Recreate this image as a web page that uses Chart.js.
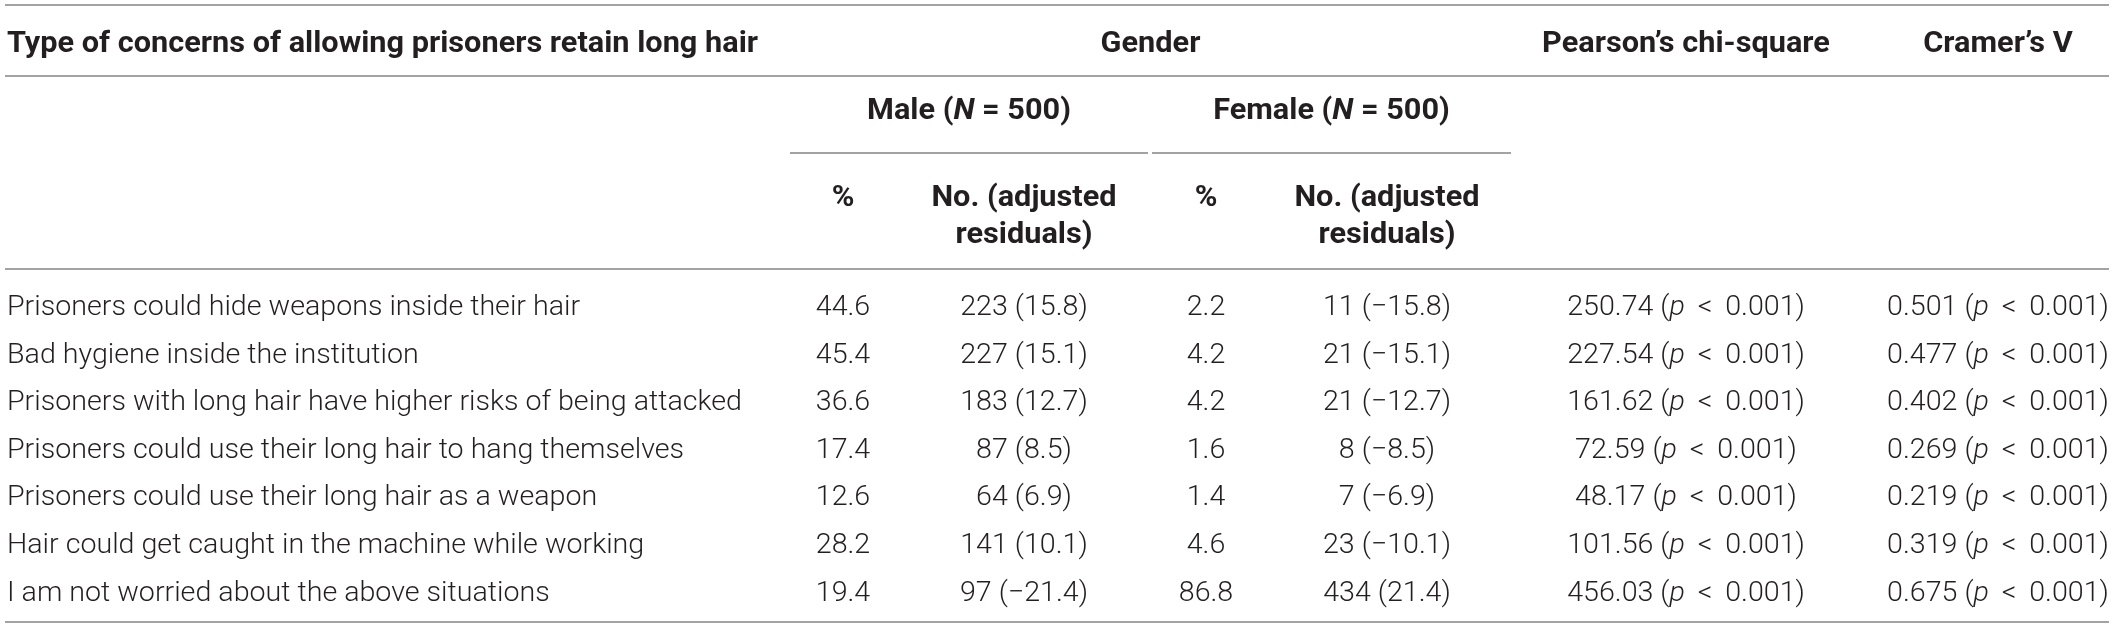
<!DOCTYPE html>
<html><head><meta charset="utf-8">
<script src="https://cdn.jsdelivr.net/npm/chart.js@4.4.1/dist/chart.umd.min.js"></script>
<style>html,body{margin:0;padding:0;background:#fff;overflow:hidden}#wrap{width:2117px;height:630px;position:relative}</style>
</head><body><div id="wrap"><canvas id="c" width="2117" height="630"></canvas></div>
<script>
// ---------- DATA ----------
const concerns = [
  "Prisoners could hide weapons inside their hair",
  "Bad hygiene inside the institution",
  "Prisoners with long hair have higher risks of being attacked",
  "Prisoners could use their long hair to hang themselves",
  "Prisoners could use their long hair as a weapon",
  "Hair could get caught in the machine while working",
  "I am not worried about the above situations"
];
const malePct   = [44.6, 45.4, 36.6, 17.4, 12.6, 28.2, 19.4];
const maleNo    = [223, 227, 183, 87, 64, 141, 97];
const maleRes   = [15.8, 15.1, 12.7, 8.5, 6.9, 10.1, -21.4];
const femalePct = [2.2, 4.2, 4.2, 1.6, 1.4, 4.6, 86.8];
const femaleNo  = [11, 21, 21, 8, 7, 23, 434];
const femaleRes = [-15.8, -15.1, -12.7, -8.5, -6.9, -10.1, 21.4];
const chiSquare = [250.74, 227.54, 161.62, 72.59, 48.17, 101.56, 456.03];
const cramersV  = [0.501, 0.477, 0.402, 0.269, 0.219, 0.319, 0.675];
const pText = "0.001";

const headTitle  = "Type of concerns of allowing prisoners retain long hair";
const headGender = "Gender";
const headChi    = "Pearson\u2019s chi-square";
const headV      = "Cramer\u2019s V";
const groupNames = ["Male", "Female"];
const groupN     = [500, 500];
const subPct     = "%";
const subNo      = ["No. (adjusted", "residuals)"];

// ---------- LAYOUT (positions / styles) ----------
const L = {
  W: 2117, H: 630,
  ruleLeft: 5, ruleRight: 2109,
  col: {label: 7, malePct: 843, maleNo: 1024, femalePct: 1206, femaleNo: 1387, chi: 1686, v: 1998},
  under: [[790, 1148], [1152, 1511]],
  firstRow: 305, rowH: 47.6,
  yPx: {topRule: 5, head1: 41, rule1: 76, head2: 108, underline: 153, head3a: 195, head3b: 232, rule2: 269, bottom: 622},
  text: '#231f20', line: '#a3a3a3', lineW: 2,
  bodyFam: 'Roboto', bodyW: 300, bodyCap: 20, bodyRefW: 735,
  headFam: 'Roboto', headW: 700, headCap: 21, headRefW: 751
};
const toRow = px => (px - L.firstRow) / L.rowH;

// ---------- helpers ----------
const fmtRes = v => (v < 0 ? '\u2212' + Math.abs(v).toFixed(1) : v.toFixed(1));
const seg = (t, it) => ({t, it: !!it});
const LT = ' \u2009<\u2009 ';

const cellCols = [
  {key: 'label', align: 'left', cells: concerns.map(s => [seg(s)])},
  {key: 'malePct', align: 'center', cells: malePct.map(v => [seg(v.toFixed(1))])},
  {key: 'maleNo', align: 'center', cells: maleNo.map((n, i) => [seg(n + ' (' + fmtRes(maleRes[i]) + ')')])},
  {key: 'femalePct', align: 'center', cells: femalePct.map(v => [seg(v.toFixed(1))])},
  {key: 'femaleNo', align: 'center', cells: femaleNo.map((n, i) => [seg(n + ' (' + fmtRes(femaleRes[i]) + ')')])},
  {key: 'chi', align: 'center', cells: chiSquare.map(v => [seg(v.toFixed(2) + ' ('), seg('p', 1), seg(LT + pText + ')')])},
  {key: 'v', align: 'center', cells: cramersV.map(v => [seg(v.toFixed(3) + ' ('), seg('p', 1), seg(LT + pText + ')')])}
];

const CAP = 0.711; // Roboto cap-height ratio
let bodySize = 28, headSize = 29.5, bodySx = 1, headSx = 1;
function calibrate(ctx) {
  bodySize = L.bodyCap / CAP;
  headSize = L.headCap / CAP;
  ctx.font = `${L.bodyW} ${bodySize}px ${L.bodyFam}`;
  bodySx = L.bodyRefW / ctx.measureText(concerns[2]).width;
  ctx.font = `${L.headW} ${headSize}px ${L.headFam}`;
  headSx = L.headRefW / ctx.measureText(headTitle).width;
}
function fontFor(head, it) {
  return head ? `${it ? 'italic ' : ''}${L.headW} ${headSize}px ${L.headFam}`
              : `${it ? 'italic ' : ''}${L.bodyW} ${bodySize}px ${L.bodyFam}`;
}
function drawRich(ctx, segs, x, y, align, head) {
  const sx = head ? headSx : bodySx;
  const widths = segs.map(s => { ctx.font = fontFor(head, s.it); return ctx.measureText(s.t).width; });
  const total = widths.reduce((a, b) => a + b, 0) * sx;
  const x0 = align === 'left' ? x : x - total / 2;
  ctx.save();
  ctx.translate(x0, y);
  ctx.scale(sx, 1);
  ctx.textAlign = 'left';
  ctx.textBaseline = 'alphabetic';
  let cx = 0;
  const base = L[head ? 'headCap' : 'bodyCap'] / 2;
  segs.forEach((s, k) => { ctx.font = fontFor(head, s.it); ctx.fillText(s.t, cx, base); cx += widths[k]; });
  ctx.restore();
}

const tablePlugin = {
  id: 'tablePlugin',
  afterDatasetsDraw(chart) {
    const ctx = chart.ctx, ys = chart.scales.y, xs = chart.scales.x;
    calibrate(ctx);
    ctx.save();
    ctx.fillStyle = L.text;
    // body cells: positioned by the library's point elements
    chart.data.datasets.forEach((ds, k) => {
      const meta = chart.getDatasetMeta(k);
      meta.data.forEach((el, i) => drawRich(ctx, ds.cells[i], el.x, el.y, ds.align, false));
    });
    // header rows
    const yy = p => ys.getPixelForValue(toRow(p));
    const xx = v => xs.getPixelForValue(v);
    drawRich(ctx, [seg(headTitle)], xx(L.col.label), yy(L.yPx.head1), 'left', true);
    drawRich(ctx, [seg(headGender)], xx((L.under[0][0] + L.under[1][1]) / 2), yy(L.yPx.head1), 'center', true);
    drawRich(ctx, [seg(headChi)], xx(L.col.chi), yy(L.yPx.head1), 'center', true);
    drawRich(ctx, [seg(headV)], xx(L.col.v), yy(L.yPx.head1), 'center', true);
    groupNames.forEach((g, j) => {
      const cx = (L.under[j][0] + L.under[j][1]) / 2;
      drawRich(ctx, [seg(g + ' ('), seg('N', 1), seg(' = ' + groupN[j] + ')')], xx(cx), yy(L.yPx.head2), 'center', true);
    });
    [[L.col.malePct, L.col.maleNo], [L.col.femalePct, L.col.femaleNo]].forEach(([pc, nc]) => {
      drawRich(ctx, [seg(subPct)], xx(pc), yy(L.yPx.head3a), 'center', true);
      drawRich(ctx, [seg(subNo[0])], xx(nc), yy(L.yPx.head3a), 'center', true);
      drawRich(ctx, [seg(subNo[1])], xx(nc), yy(L.yPx.head3b), 'center', true);
    });
    // rules
    ctx.strokeStyle = L.line; ctx.lineWidth = L.lineW;
    const hline = (x1, x2, p) => { const y = Math.round(yy(p)); ctx.beginPath(); ctx.moveTo(xx(x1), y); ctx.lineTo(xx(x2), y); ctx.stroke(); };
    [L.yPx.topRule, L.yPx.rule1, L.yPx.rule2, L.yPx.bottom].forEach(p => hline(L.ruleLeft, L.ruleRight, p));
    L.under.forEach(([a, b]) => hline(a, b, L.yPx.underline));
    ctx.restore();
  }
};

new Chart(document.getElementById('c'), {
  type: 'scatter',
  data: {
    datasets: cellCols.map(c => ({
      label: c.key, align: c.align, cells: c.cells,
      data: concerns.map((_, i) => ({x: L.col[c.key], y: i})),
      pointRadius: 0, pointHoverRadius: 0, showLine: false
    }))
  },
  options: {
    responsive: false, animation: false, devicePixelRatio: 1,
    layout: {padding: 0},
    plugins: {legend: {display: false}, tooltip: {enabled: false}},
    scales: {
      x: {type: 'linear', min: 0, max: L.W, display: false},
      y: {type: 'linear', min: toRow(0), max: toRow(L.H), reverse: true, display: false}
    }
  },
  plugins: [tablePlugin]
});
</script></body></html>
